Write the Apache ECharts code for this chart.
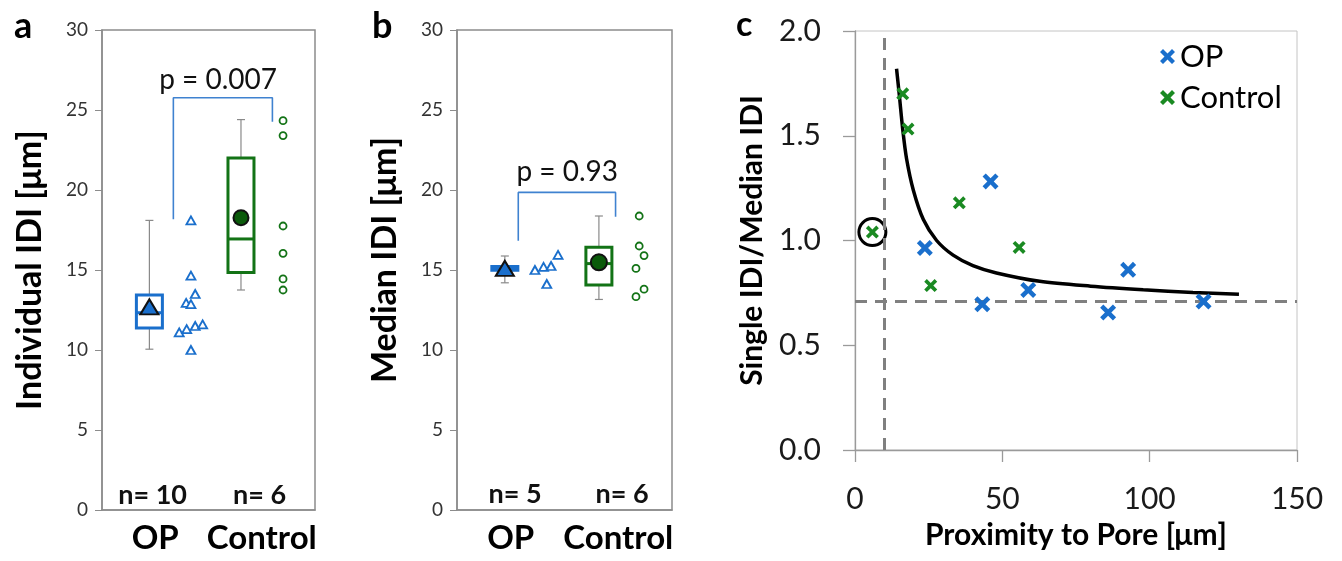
<!DOCTYPE html>
<html>
<head>
<meta charset="UTF-8">
<script src="https://cdn.jsdelivr.net/npm/echarts@6/dist/echarts.min.js"></script>
<style>
  html, body { margin: 0; padding: 0; background: #fff; }
  #main { width: 1342px; height: 561px; }
</style>
</head>
<body>
<div id="main"></div>
<script>
// ---- data ----
var catLabels = ['OP', 'Control'];
var catPos = [1, 3];

// box data: [x, low whisker, q1, median, q3, high whisker]
// panel a - individual IDI
var aOpBox = [0.89, 10.05, 11.37, 12.33, 13.44, 18.1];
var aOpMean = [0.89, 12.7];
var aOpPts = [[1.67, 18.1], [1.67, 14.65], [1.75, 13.5], [1.58, 12.95], [1.67, 12.87],
              [1.45, 11.1], [1.59, 11.3], [1.75, 11.5], [1.89, 11.6], [1.67, 10.0]];
var aCtrlBox = [2.61, 13.75, 14.85, 16.94, 22.0, 24.4];
var aCtrlMean = [2.61, 18.27];
var aCtrlPts = [[3.40, 24.33], [3.40, 23.4], [3.40, 17.75], [3.40, 16.04], [3.40, 14.44], [3.40, 13.75]];
var aBracket = [[1.34, 18.17], [1.34, 25.77], [3.20, 25.77], [3.20, 24.27]];
var aPText = 'p = 0.007';
var aNText = ['n= 10', 'n= 6'];

// panel b - median IDI
var bOpBox = [0.89, 14.2, 14.98, 15.1, 15.22, 15.875];
var bOpMean = [0.89, 15.1];
var bOpPts = [[1.45, 15.0], [1.61, 15.2], [1.75, 15.25], [1.67, 14.125], [1.88, 15.94]];
var bCtrlBox = [2.64, 13.16, 14.06, 15.4, 16.42, 18.375];
var bCtrlMean = [2.64, 15.48];
var bCtrlPts = [[3.39, 18.375], [3.39, 16.5], [3.48, 15.9], [3.33, 15.1], [3.48, 13.8], [3.33, 13.33]];
var bBracket = [[1.14, 16.83], [1.14, 19.85], [2.95, 19.85], [2.95, 18.33]];
var bPText = 'p = 0.93';
var bNText = ['n= 5', 'n= 6'];

// panel c - single/median IDI vs proximity
var cOp = [[46.0, 1.282], [23.7, 0.964], [58.8, 0.764], [43.2, 0.696], [92.7, 0.86], [85.9, 0.656], [118.3, 0.709]];
var cCtrl = [[16.2, 1.70], [18.0, 1.532], [5.9, 1.04], [35.4, 1.18], [55.7, 0.967], [25.7, 0.785]];
var cCircled = [[5.9, 1.04]];
var cFit = [[14.1, 1.82], [15.0, 1.70], [16.2, 1.53], [17.5, 1.39], [19.8, 1.24], [23.2, 1.10],
            [27.7, 1.00], [33.3, 0.93], [40.0, 0.88], [48.0, 0.845], [62.7, 0.805], [80.0, 0.782],
            [97.8, 0.765], [114.7, 0.752], [130.3, 0.744]];
var cAsymY = 0.712;
var cAsymX = 10;

// ---- styles ----
var FONT = 'Lato, "DejaVu Sans", sans-serif';
var BLUE = '#1a6fcc';
var GREEN = '#137316';
var GREEN_C = '#1a8a22';
var XMARK = 'path://M2,0 L5,3 L8,0 L10,2 L7,5 L10,8 L8,10 L5,7 L2,10 L0,8 L3,5 L0,2 Z';

var chart = echarts.init(document.getElementById('main'), null, {renderer: 'canvas'});

function renderBox(params, api) {
    var x = api.value(0);
    var lo = api.coord([x, api.value(1)]);
    var q1 = api.coord([x, api.value(2)]);
    var med = api.coord([x, api.value(3)]);
    var q3 = api.coord([x, api.value(4)]);
    var hi = api.coord([x, api.value(5)]);
    var color = api.visual('color');
    var w = 26, cap = 4;
    var wh = {stroke: '#8a8a8a', lineWidth: 1.2};
    return {
        type: 'group',
        children: [
            {type: 'line', shape: {x1: lo[0], y1: lo[1], x2: hi[0], y2: hi[1]}, style: wh},
            {type: 'line', shape: {x1: lo[0] - cap, y1: lo[1], x2: lo[0] + cap, y2: lo[1]}, style: wh},
            {type: 'line', shape: {x1: hi[0] - cap, y1: hi[1], x2: hi[0] + cap, y2: hi[1]}, style: wh},
            {type: 'rect', shape: {x: q1[0] - w / 2, y: q3[1], width: w, height: q1[1] - q3[1]},
             style: {fill: '#fff', stroke: color, lineWidth: 3}},
            {type: 'line', shape: {x1: med[0] - w / 2, y1: med[1], x2: med[0] + w / 2, y2: med[1]},
             style: {stroke: color, lineWidth: 3}}
        ]
    };
}

function boxAxes(idx, title, titlePad) {
    return {
        x: {
            gridIndex: idx, type: 'value', min: 0, max: 4,
            axisLine: {show: true, lineStyle: {color: '#8c8c8c', width: 1.5}},
            axisTick: {show: false},
            splitLine: {show: false},
            axisLabel: {
                customValues: catPos,
                formatter: function (v) { return catLabels[catPos.indexOf(v)] || ''; },
                fontFamily: FONT, fontSize: 33, fontWeight: 'bold', color: '#000', margin: 12
            }
        },
        y: {
            gridIndex: idx, type: 'value', min: 0, max: 30, interval: 5,
            axisLine: {show: true, lineStyle: {color: '#8c8c8c', width: 1.5}},
            axisTick: {show: true, length: 7, lineStyle: {color: '#8c8c8c'}},
            splitLine: {show: false},
            axisLabel: {fontFamily: FONT, fontSize: 19, color: '#333', margin: 14},
            name: title, nameLocation: 'middle', nameGap: 55,
            nameTextStyle: {fontFamily: FONT, fontSize: 34, fontWeight: 'bold', color: '#000', padding: titlePad}
        }
    };
}

var axA = boxAxes(0, 'Individual IDI [μm]', [0, 0, 0, 0]);
var axB = boxAxes(1, 'Median IDI [μm]', [0, 0, 0, 20]);

function textSeries(idx, items, size, weight) {
    return {
        type: 'scatter', xAxisIndex: idx, yAxisIndex: idx, silent: true,
        symbolSize: 1, itemStyle: {color: 'rgba(0,0,0,0)', opacity: 1},
        data: items.map(function (it) { return {value: it[0], label: {formatter: it[1]}}; }),
        label: {show: true, position: 'inside', fontFamily: FONT, fontSize: size, fontWeight: weight, color: '#111'},
        z: 5
    };
}

function boxSeries(idx, data, color) {
    return {
        type: 'custom', xAxisIndex: idx, yAxisIndex: idx, silent: true,
        renderItem: renderBox, itemStyle: {color: color},
        encode: {x: 0, y: [1, 2, 3, 4, 5]},
        data: [data], z: 2
    };
}

function ptsSeries(idx, data, symbol, size, color) {
    return {
        type: 'scatter', xAxisIndex: idx, yAxisIndex: idx, silent: true,
        symbol: symbol, symbolSize: size,
        itemStyle: {color: '#fff', borderColor: color, borderWidth: 1.8, opacity: 1},
        data: data, z: 3
    };
}

function meanSeries(idx, data, symbol, size, color) {
    return {
        type: 'scatter', xAxisIndex: idx, yAxisIndex: idx, silent: true,
        symbol: symbol, symbolSize: size,
        itemStyle: {color: color, borderColor: '#111', borderWidth: 2, opacity: 1},
        data: [data], z: 4
    };
}

function bracketSeries(idx, data) {
    return {
        type: 'line', xAxisIndex: idx, yAxisIndex: idx, silent: true,
        showSymbol: false, symbol: 'none',
        lineStyle: {color: '#3f82d0', width: 1.6},
        data: data, z: 3
    };
}

var option = {
    animation: false,
    backgroundColor: '#fff',
    textStyle: {fontFamily: FONT},
    grid: [
        {left: 102, right: 1027, top: 30, bottom: 51, show: true, borderColor: '#8c8c8c', borderWidth: 1.5},
        {left: 457, right: 670, top: 30, bottom: 51, show: true, borderColor: '#8c8c8c', borderWidth: 1.5},
        {left: 855, right: 45, top: 31, bottom: 111, show: true, borderColor: '#c4c4c4', borderWidth: 1}
    ],
    xAxis: [axA.x, axB.x, {
        gridIndex: 2, type: 'value', min: 0, max: 150, interval: 50,
        axisLine: {show: true, lineStyle: {color: '#9a9a9a', width: 1.3}},
        axisTick: {show: true, length: 12, lineStyle: {color: '#9a9a9a', width: 1.3}},
        splitLine: {show: false},
        axisLabel: {fontFamily: FONT, fontSize: 30, color: '#1a1a1a', margin: 34},
        name: 'Proximity to Pore [μm]', nameLocation: 'middle', nameGap: 70,
        nameTextStyle: {fontFamily: FONT, fontSize: 30, fontWeight: 'bold', color: '#000'}
    }],
    yAxis: [axA.y, axB.y, {
        gridIndex: 2, type: 'value', min: 0, max: 2, interval: 0.5,
        axisLine: {show: true, lineStyle: {color: '#9a9a9a', width: 1.3}},
        axisTick: {show: true, length: 12, lineStyle: {color: '#9a9a9a', width: 1.3}},
        splitLine: {show: false},
        axisLabel: {fontFamily: FONT, fontSize: 30, color: '#1a1a1a', margin: 34,
                    formatter: function (v) { return v.toFixed(1); }},
        name: 'Single IDI/Median IDI', nameLocation: 'middle', nameGap: 88,
        nameTextStyle: {fontFamily: FONT, fontSize: 30, fontWeight: 'bold', color: '#000'}
    }],
    legend: {
        data: ['OP', 'Control'], orient: 'vertical', left: 1155, top: 36,
        itemGap: 10, itemWidth: 15, itemHeight: 15,
        textStyle: {fontFamily: FONT, fontSize: 31, color: '#000'},
        selectedMode: false
    },
    graphic: [
        {type: 'text', left: 14, top: 8, style: {text: 'a', font: 'bold 36px ' + FONT, fill: '#000'}},
        {type: 'text', left: 372, top: 8, style: {text: 'b', font: 'bold 36px ' + FONT, fill: '#000'}},
        {type: 'text', left: 736, top: 8, style: {text: 'c', font: 'bold 34px ' + FONT, fill: '#000'}}
    ],
    series: [
        // panel a
        boxSeries(0, aOpBox, BLUE),
        boxSeries(0, aCtrlBox, GREEN),
        ptsSeries(0, aOpPts, 'triangle', [9, 8], BLUE),
        ptsSeries(0, aCtrlPts, 'circle', 7, GREEN),
        meanSeries(0, aOpMean, 'triangle', [18, 15], BLUE),
        meanSeries(0, aCtrlMean, 'circle', 15, '#0a5a0a'),
        bracketSeries(0, aBracket),
        textSeries(0, [[[2.18, 26.9], aPText]], 28, 'normal'),
        textSeries(0, [[[0.95, 0.95], aNText[0]], [[2.96, 0.95], aNText[1]]], 27, 'bold'),
        // panel b
        boxSeries(1, bOpBox, BLUE),
        boxSeries(1, bCtrlBox, GREEN),
        ptsSeries(1, bOpPts, 'triangle', [9, 8], BLUE),
        ptsSeries(1, bCtrlPts, 'circle', 7, GREEN),
        meanSeries(1, bOpMean, 'triangle', [18, 15], BLUE),
        meanSeries(1, bCtrlMean, 'circle', 16, '#0a5a0a'),
        bracketSeries(1, bBracket),
        textSeries(1, [[[2.05, 21.1], bPText]], 28, 'normal'),
        textSeries(1, [[[1.08, 1.0], bNText[0]], [[3.07, 1.0], bNText[1]]], 27, 'bold'),
        // panel c
        {
            type: 'line', name: 'fit', xAxisIndex: 2, yAxisIndex: 2, silent: true,
            smooth: 0.3, showSymbol: false, symbol: 'none',
            lineStyle: {color: '#000', width: 3.5},
            data: cFit, z: 3,
            markLine: {
                silent: true, symbol: ['none', 'none'], label: {show: false},
                lineStyle: {color: '#808080', width: 3, type: [12, 8]},
                data: [{yAxis: cAsymY}, {xAxis: cAsymX}]
            }
        },
        {
            type: 'scatter', name: 'circled', xAxisIndex: 2, yAxisIndex: 2, silent: true,
            symbol: 'circle', symbolSize: 27,
            itemStyle: {color: 'rgba(0,0,0,0)', borderColor: '#000', borderWidth: 3, opacity: 1},
            data: cCircled, z: 4
        },
        {
            type: 'scatter', name: 'OP', xAxisIndex: 2, yAxisIndex: 2, silent: true,
            symbol: XMARK, symbolSize: 16, itemStyle: {color: BLUE, opacity: 1},
            data: cOp, z: 5
        },
        {
            type: 'scatter', name: 'Control', xAxisIndex: 2, yAxisIndex: 2, silent: true,
            symbol: XMARK, symbolSize: 13, itemStyle: {color: GREEN_C, opacity: 1},
            data: cCtrl, z: 5
        }
    ]
};

chart.setOption(option);
</script>
</body>
</html>
